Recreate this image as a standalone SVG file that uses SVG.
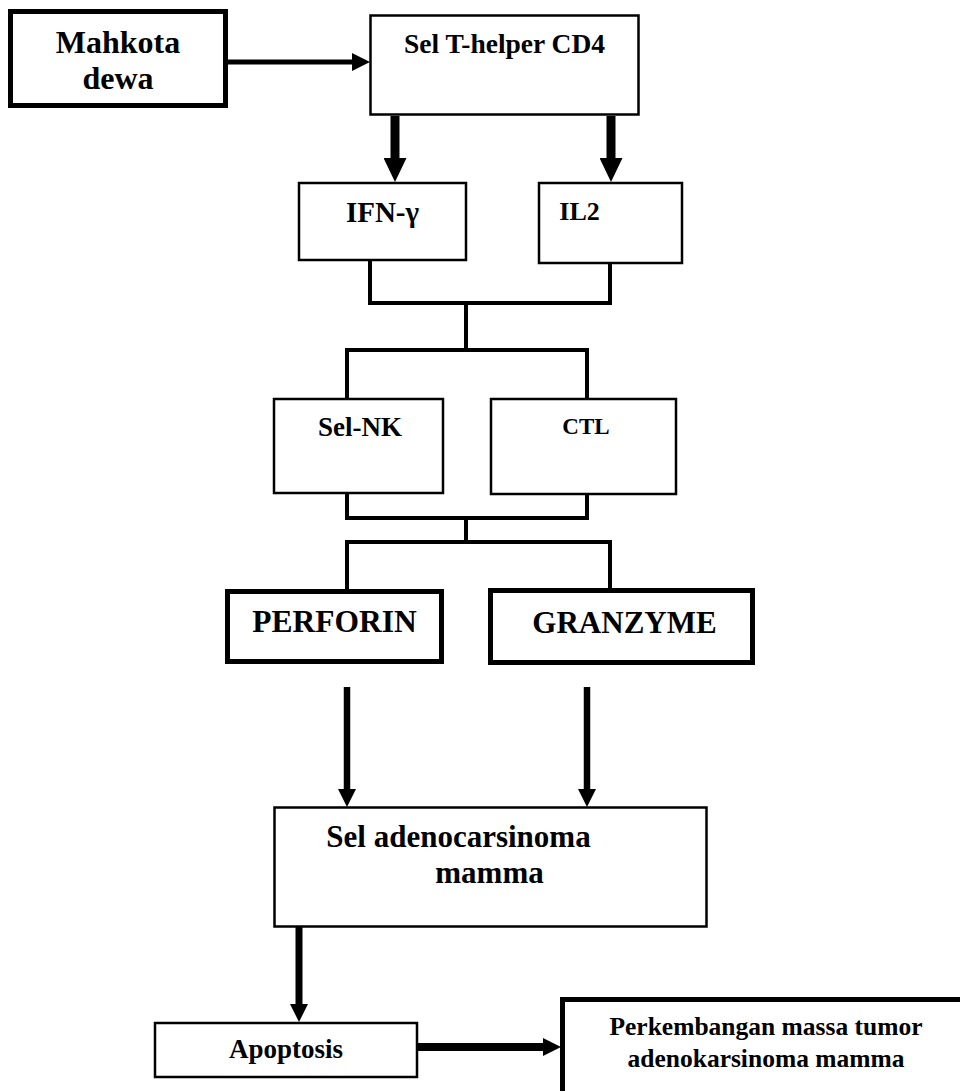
<svg xmlns="http://www.w3.org/2000/svg" width="960" height="1091" viewBox="0 0 960 1091">
  <defs>
    <style>
      text { font-family: "Liberation Serif", "Times New Roman", serif; font-weight: bold; fill: #000; text-anchor: middle; }
      .box { fill: #fff; stroke: #000; stroke-width: 2.5; }
      .heavy { fill: #fff; stroke: #000; stroke-width: 5; }
      .link { fill: none; stroke: #000; stroke-width: 4; stroke-linejoin: miter; }
      .shaft { fill: none; stroke: #000; }
    </style>
    <marker id="head-lg" markerUnits="userSpaceOnUse" viewBox="0 0 24 23" refX="0" refY="11.5" markerWidth="24" markerHeight="23" orient="auto">
      <path d="M0,0 L24,11.5 L0,23 Z" fill="#000"/>
    </marker>
    <marker id="head-md" markerUnits="userSpaceOnUse" viewBox="0 0 18 18" refX="0" refY="9" markerWidth="18" markerHeight="18" orient="auto">
      <path d="M0,0 L18,9 L0,18 Z" fill="#000"/>
    </marker>
  </defs>

  <rect width="960" height="1091" fill="#fff"/>

  <!-- connectors -->
  <g id="connectors">
    <line class="shaft" x1="228" y1="62" x2="352" y2="62" stroke-width="5" marker-end="url(#head-md)"/>
    <line class="shaft" x1="395" y1="116" x2="395" y2="158" stroke-width="9" marker-end="url(#head-lg)"/>
    <line class="shaft" x1="611" y1="116" x2="611" y2="158" stroke-width="9" marker-end="url(#head-lg)"/>
    <path class="link" d="M370,255 V303 H610 V255 M466,303 V350 M347,398 V350 H587 V398"/>
    <path class="link" d="M347,493 V518 H587 V494 M466,518 V542 M347,589 V542 H610 V588"/>
    <line class="shaft" x1="347" y1="687" x2="347" y2="789" stroke-width="6.5" marker-end="url(#head-md)"/>
    <line class="shaft" x1="587" y1="687" x2="587" y2="789" stroke-width="6.5" marker-end="url(#head-md)"/>
    <line class="shaft" x1="299" y1="927" x2="299" y2="1004" stroke-width="7" marker-end="url(#head-md)"/>
    <line class="shaft" x1="418" y1="1047" x2="543" y2="1047" stroke-width="8" marker-end="url(#head-md)"/>
  </g>

  <g id="mahkota-dewa">
    <rect class="heavy" x="10.5" y="11.5" width="215" height="94"/>
    <text x="118" y="53" font-size="32">Mahkota</text>
    <text x="118" y="89" font-size="32">dewa</text>
  </g>

  <g id="t-helper">
    <rect class="box" x="370.5" y="15.5" width="268" height="99" stroke-width="3"/>
    <text x="504.5" y="53" font-size="27.5">Sel T-helper CD4</text>
  </g>

  <g id="ifn-gamma">
    <rect class="box" x="299" y="183" width="167" height="77"/>
    <text x="382.5" y="222" font-size="29">IFN-γ</text>
  </g>

  <g id="il2">
    <rect class="box" x="539" y="183" width="143" height="80"/>
    <text x="579.5" y="220" font-size="26">IL2</text>
  </g>

  <g id="sel-nk">
    <rect class="box" x="274" y="399" width="169" height="94"/>
    <text x="360" y="436" font-size="27">Sel-NK</text>
  </g>

  <g id="ctl">
    <rect class="box" x="491" y="399" width="185" height="95"/>
    <text x="586" y="434" font-size="23">CTL</text>
  </g>

  <g id="perforin">
    <rect class="heavy" x="227.5" y="591.5" width="214" height="70"/>
    <text x="334.5" y="632" font-size="31.5">PERFORIN</text>
  </g>

  <g id="granzyme">
    <rect class="heavy" x="490.5" y="590.5" width="262" height="72"/>
    <text x="624.5" y="633" font-size="31">GRANZYME</text>
  </g>

  <g id="sel-adenocarsinoma">
    <rect class="box" x="274.5" y="807.5" width="432" height="119" stroke-width="3"/>
    <text x="458.5" y="847" font-size="31">Sel adenocarsinoma</text>
    <text x="489.5" y="883" font-size="31">mamma</text>
  </g>

  <g id="apoptosis">
    <rect class="box" x="155" y="1023" width="262" height="54"/>
    <text x="286" y="1058" font-size="27">Apoptosis</text>
  </g>

  <g id="perkembangan">
    <rect class="heavy" x="562.5" y="999.5" width="420" height="120"/>
    <text x="766" y="1035" font-size="25.5">Perkembangan massa tumor</text>
    <text x="766" y="1067" font-size="25.5">adenokarsinoma mamma</text>
  </g>
</svg>
